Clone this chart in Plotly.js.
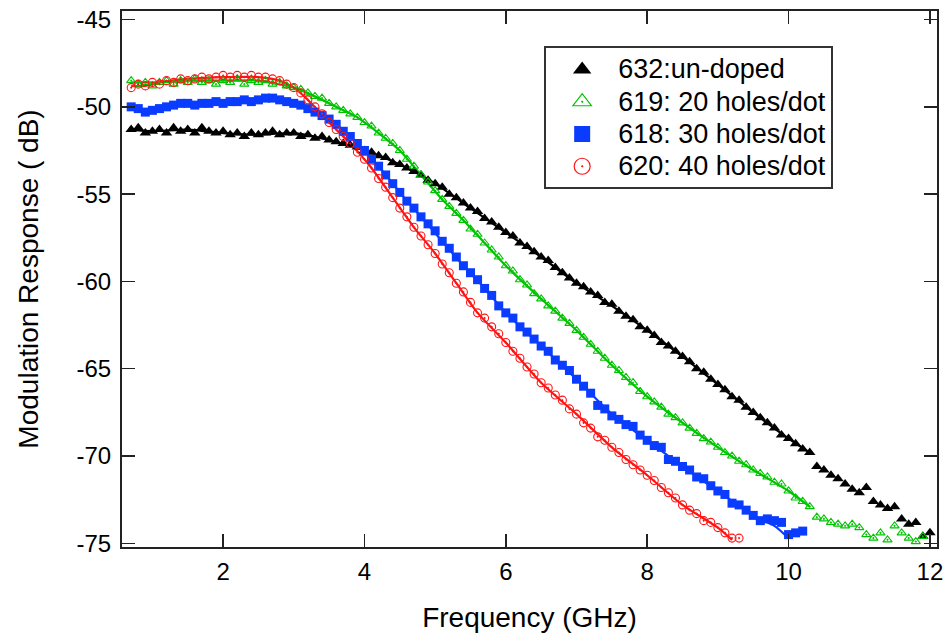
<!DOCTYPE html>
<html>
<head>
<meta charset="utf-8">
<script src="https://cdn.plot.ly/plotly-3.0.1.min.js"></script>
<style>
html,body{margin:0;padding:0;background:#fff;}
#chart{width:950px;height:644px;}
.legendtext{font-size:27px !important;}
</style>
</head>
<body>
<div id="chart"></div>
<script>
// ---- series names ----
var names = ["632:un-doped", "619: 20 holes/dot", "618: 30 holes/dot", "620: 40 holes/dot"];

// ---- measured points (markers) ----
var blackX = [0.7,0.8,0.9,1.0,1.1,1.2,1.3,1.4,1.5,1.6,1.7,1.8,1.9,2.0,2.1,2.2,2.3,2.4,2.5,2.6,2.7,2.8,2.9,3.0,3.1,3.2,3.3,3.4,3.5,3.6,3.7,3.8,3.9,4.0,4.1,4.2,4.3,4.4,4.5,4.6,4.7,4.8,4.9,5.0,5.1,5.2,5.3,5.4,5.5,5.6,5.7,5.8,5.9,6.0,6.1,6.2,6.3,6.4,6.5,6.6,6.7,6.8,6.9,7.0,7.1,7.2,7.3,7.4,7.5,7.6,7.7,7.8,7.9,8.0,8.1,8.2,8.3,8.4,8.5,8.6,8.7,8.8,8.9,9.0,9.1,9.2,9.3,9.4,9.5,9.6,9.7,9.8,9.9,10.0,10.1,10.2,10.3,10.4,10.5,10.6,10.7,10.8,10.9,11.0,11.1,11.2,11.3,11.4,11.5,11.6,11.7,11.8,11.9,12.0];
var blackY = [-51.3,-51.2,-51.5,-51.4,-51.3,-51.5,-51.2,-51.4,-51.3,-51.5,-51.2,-51.4,-51.5,-51.4,-51.6,-51.5,-51.7,-51.5,-51.6,-51.5,-51.4,-51.6,-51.5,-51.5,-51.7,-51.6,-51.8,-51.7,-51.9,-52.0,-52.1,-52.2,-52.3,-52.5,-52.6,-52.8,-52.9,-53.2,-53.3,-53.5,-53.7,-53.9,-54.2,-54.4,-54.6,-55.0,-55.2,-55.5,-55.8,-56.0,-56.4,-56.6,-56.9,-57.2,-57.4,-57.8,-58.0,-58.3,-58.6,-58.8,-59.2,-59.5,-59.8,-60.1,-60.3,-60.6,-60.8,-61.2,-61.3,-61.7,-62.0,-62.2,-62.6,-62.8,-63.1,-63.5,-63.7,-64.0,-64.3,-64.6,-65.0,-65.2,-65.6,-65.9,-66.2,-66.6,-66.8,-67.2,-67.5,-67.8,-68.1,-68.4,-68.8,-69.0,-69.3,-69.6,-69.8,-70.6,-70.8,-71.1,-71.3,-71.6,-71.9,-72.1,-71.8,-72.6,-72.8,-73.0,-72.9,-73.6,-73.9,-73.8,-74.6,-74.4];

var greenX = [0.7,0.8,0.9,1.0,1.1,1.2,1.3,1.4,1.5,1.6,1.7,1.8,1.9,2.0,2.1,2.2,2.3,2.4,2.5,2.6,2.7,2.8,2.9,3.0,3.1,3.2,3.3,3.4,3.5,3.6,3.7,3.8,3.9,4.0,4.1,4.2,4.3,4.4,4.5,4.6,4.7,4.8,4.9,5.0,5.1,5.2,5.3,5.4,5.5,5.6,5.7,5.8,5.9,6.0,6.1,6.2,6.3,6.4,6.5,6.6,6.7,6.8,6.9,7.0,7.1,7.2,7.3,7.4,7.5,7.6,7.7,7.8,7.9,8.0,8.1,8.2,8.3,8.4,8.5,8.6,8.7,8.8,8.9,9.0,9.1,9.2,9.3,9.4,9.5,9.6,9.7,9.8,9.9,10.0,10.1,10.2,10.3,10.4,10.5,10.6,10.7,10.8,10.9,11.0,11.1,11.2,11.3,11.4,11.5,11.6,11.7,11.8,11.9];
var greenY = [-48.5,-48.7,-48.6,-48.8,-48.6,-48.5,-48.7,-48.5,-48.6,-48.4,-48.6,-48.5,-48.7,-48.5,-48.6,-48.4,-48.7,-48.5,-48.6,-48.5,-48.7,-48.6,-48.8,-48.9,-49.0,-49.2,-49.4,-49.5,-49.8,-50.0,-50.2,-50.4,-50.6,-50.9,-51.1,-51.5,-51.8,-52.1,-52.5,-53.0,-53.4,-53.9,-54.3,-54.8,-55.3,-55.7,-56.1,-56.5,-57.0,-57.3,-57.8,-58.2,-58.6,-59.1,-59.4,-59.9,-60.2,-60.7,-61.0,-61.4,-61.7,-62.1,-62.4,-62.8,-63.2,-63.6,-64.0,-64.4,-64.8,-65.1,-65.5,-65.8,-66.3,-66.6,-66.9,-67.2,-67.6,-67.8,-68.1,-68.4,-68.7,-69.0,-69.2,-69.5,-69.8,-70.0,-70.3,-70.5,-70.8,-71.0,-71.2,-71.5,-71.6,-72.0,-72.4,-72.6,-72.9,-73.5,-73.6,-73.8,-73.9,-74.0,-73.9,-74.1,-74.5,-74.7,-74.4,-74.8,-74.0,-74.4,-74.7,-74.9,-74.6];

var blueX = [0.7,0.8,0.9,1.0,1.1,1.2,1.3,1.4,1.5,1.6,1.7,1.8,1.9,2.0,2.1,2.2,2.3,2.4,2.5,2.6,2.7,2.8,2.9,3.0,3.1,3.2,3.3,3.4,3.5,3.6,3.7,3.8,3.9,4.0,4.1,4.2,4.3,4.4,4.5,4.6,4.7,4.8,4.9,5.0,5.1,5.2,5.3,5.4,5.5,5.6,5.7,5.8,5.9,6.0,6.1,6.2,6.3,6.4,6.5,6.6,6.7,6.8,6.9,7.0,7.1,7.2,7.3,7.4,7.5,7.6,7.7,7.8,7.9,8.0,8.1,8.2,8.3,8.4,8.5,8.6,8.7,8.8,8.9,9.0,9.1,9.2,9.3,9.4,9.5,9.6,9.7,9.8,9.9,10.0,10.1,10.2];
var blueY = [-50.0,-50.1,-50.3,-50.2,-50.1,-50.0,-49.9,-49.8,-49.8,-49.9,-49.8,-49.8,-49.7,-49.8,-49.7,-49.7,-49.6,-49.7,-49.6,-49.5,-49.5,-49.6,-49.7,-49.8,-49.9,-50.1,-50.3,-50.5,-50.7,-51.0,-51.4,-51.7,-52.1,-52.5,-53.0,-53.4,-53.9,-54.4,-54.9,-55.4,-55.8,-56.3,-56.7,-57.1,-57.7,-58.1,-58.6,-59.1,-59.5,-59.9,-60.4,-60.8,-61.4,-61.8,-62.1,-62.6,-62.9,-63.3,-63.7,-64.0,-64.5,-64.8,-65.1,-65.6,-66.0,-66.4,-67.1,-67.3,-67.7,-67.9,-68.2,-68.3,-68.8,-69.1,-69.4,-69.5,-70.2,-70.3,-70.6,-70.8,-71.2,-71.3,-71.7,-72.0,-72.2,-72.7,-72.8,-73.1,-73.4,-73.7,-73.6,-73.7,-73.8,-74.5,-74.4,-74.3];

var redX = [0.7,0.8,0.9,1.0,1.1,1.2,1.3,1.4,1.5,1.6,1.7,1.8,1.9,2.0,2.1,2.2,2.3,2.4,2.5,2.6,2.7,2.8,2.9,3.0,3.1,3.2,3.3,3.4,3.5,3.6,3.7,3.8,3.9,4.0,4.1,4.2,4.3,4.4,4.5,4.6,4.7,4.8,4.9,5.0,5.1,5.2,5.3,5.4,5.5,5.6,5.7,5.8,5.9,6.0,6.1,6.2,6.3,6.4,6.5,6.6,6.7,6.8,6.9,7.0,7.1,7.2,7.3,7.4,7.5,7.6,7.7,7.8,7.9,8.0,8.1,8.2,8.3,8.4,8.5,8.6,8.7,8.8,8.9,9.0,9.1,9.2,9.3];
var redY = [-48.9,-48.7,-48.8,-48.6,-48.7,-48.5,-48.6,-48.4,-48.5,-48.4,-48.3,-48.4,-48.3,-48.2,-48.3,-48.2,-48.3,-48.2,-48.3,-48.3,-48.4,-48.5,-48.7,-48.9,-49.2,-49.6,-50.0,-50.4,-50.9,-51.3,-51.7,-52.1,-52.6,-53.0,-53.5,-54.1,-54.6,-55.2,-55.8,-56.3,-56.9,-57.4,-57.9,-58.4,-59.0,-59.5,-60.1,-60.6,-61.2,-61.8,-62.1,-62.6,-63.0,-63.5,-64.0,-64.4,-64.9,-65.3,-65.8,-66.1,-66.5,-66.8,-67.3,-67.6,-68.1,-68.4,-68.9,-69.1,-69.5,-69.8,-70.2,-70.5,-70.8,-71.1,-71.4,-71.8,-72.1,-72.4,-72.8,-73.1,-73.3,-73.7,-73.8,-74.1,-74.4,-74.7,-74.7];

// ---- fitted curves (solid lines) ----
var blackFitX = [0.7,1.0,1.5,2.0,2.5,3.0,3.5,4.0,4.5,5.0,5.5,6.0,6.5,7.0,7.5,8.0,8.5,9.0,9.5,10.0,10.3];
var blackFitY = [-51.3,-51.4,-51.3,-51.5,-51.6,-51.5,-51.9,-52.5,-53.3,-54.4,-55.8,-57.2,-58.6,-60.1,-61.4,-62.8,-64.3,-65.9,-67.5,-69.0,-69.8];
var greenFitX = [0.7,1.0,1.5,2.0,2.5,3.0,3.3,3.6,3.9,4.2,4.5,4.8,5.1,5.4,5.7,6.0,6.5,7.0,7.5,8.0,8.5,9.0,9.5,10.0,10.3];
var greenFitY = [-48.6,-48.6,-48.5,-48.5,-48.5,-48.9,-49.4,-50.0,-50.6,-51.5,-52.5,-53.9,-55.3,-56.5,-57.8,-59.1,-61.0,-62.8,-64.8,-66.6,-68.1,-69.5,-70.8,-72.0,-72.9];
var blueFitX = [0.7,0.9,1.2,1.5,2.0,2.5,2.75,3.0,3.3,3.6,3.9,4.2,4.5,4.8,5.1,5.4,5.7,6.0,6.5,7.0,7.5,8.0,8.5,9.0,9.5,9.8,10.0];
var blueFitY = [-50.0,-50.3,-50.0,-49.8,-49.8,-49.6,-49.5,-49.8,-50.3,-51.0,-52.1,-53.4,-54.9,-56.3,-57.7,-59.1,-60.4,-61.8,-63.7,-65.6,-67.6,-69.1,-70.6,-72.0,-73.4,-74.0,-74.7];
var redFitX = [0.7,0.9,1.1,1.5,2.0,2.5,2.8,3.0,3.2,3.5,3.8,4.1,4.4,4.7,5.0,5.3,5.6,6.0,6.5,7.0,7.5,8.0,8.5,9.0,9.2];
var redFitY = [-48.8,-48.8,-48.6,-48.4,-48.3,-48.3,-48.5,-48.9,-49.6,-50.9,-52.1,-53.5,-55.2,-56.9,-58.4,-60.1,-61.8,-63.5,-65.8,-67.6,-69.5,-71.1,-72.8,-74.1,-74.8];

// ---- axis ticks ----
var xTicks = [2, 4, 6, 8, 10, 12];
var yTicks = [-45, -50, -55, -60, -65, -70, -75];

var cBlack = "#000000", cGreen = "#00c400", cBlue = "#0a3cff", cRed = "#ff1414";

function fit(x, y, c) {
  return {x: x, y: y, mode: "lines", type: "scatter", showlegend: false, hoverinfo: "skip",
          line: {color: c, width: 2.2, shape: "spline", smoothing: 0.6}};
}
function pts(x, y, c, sym, size, name, lw) {
  return {x: x, y: y, mode: "markers", type: "scatter", showlegend: false, name: name,
          marker: {symbol: sym, size: size, color: c, line: {color: c, width: lw}}};
}
function leg(c, sym, name, lw) {
  return {x: [null], y: [null], mode: "markers", type: "scatter", name: name, showlegend: true,
          marker: {symbol: sym, size: 16, color: c, line: {color: c, width: lw}}};
}

var data = [
  fit(blackFitX, blackFitY, cBlack),
  fit(greenFitX, greenFitY, cGreen),
  fit(blueFitX, blueFitY, cBlue),
  fit(redFitX, redFitY, cRed),
  pts(blackX, blackY, cBlack, "triangle-up", 10, names[0], 0),
  pts(greenX, greenY, cGreen, "triangle-up-open-dot", 8, names[1], 1.1),
  pts(blueX, blueY, cBlue, "square", 9, names[2], 0),
  pts(redX, redY, cRed, "circle-open-dot", 8, names[3], 1.1),
  leg(cBlack, "triangle-up", names[0], 0),
  leg(cGreen, "triangle-up-open-dot", names[1], 1.2),
  leg(cBlue, "square", names[2], 0),
  leg(cRed, "circle-open-dot", names[3], 1.2)
];

var font = "Liberation Sans, Arial, sans-serif";
var layout = {
  width: 950, height: 644,
  margin: {l: 122, r: 13, t: 11, b: 97},
  paper_bgcolor: "#ffffff", plot_bgcolor: "#ffffff",
  showlegend: true,
  font: {family: font, color: "#000000", size: 24},
  xaxis: {
    range: [0.57, 12.1], tickvals: xTicks, ticktext: xTicks.map(String),
    ticks: "inside", ticklen: 13, tickwidth: 1.5, tickcolor: "#222",
    showline: true, linecolor: "#222", linewidth: 2, mirror: "ticks",
    showgrid: false, zeroline: false, ticklabelstandoff: 2,
    tickfont: {size: 24, family: font},
    title: {text: "Frequency (GHz)", font: {size: 28, family: font}, standoff: 24}
  },
  yaxis: {
    range: [-75.21, -44.51], tickvals: yTicks, ticktext: yTicks.map(String),
    ticks: "inside", ticklen: 13, tickwidth: 1.5, tickcolor: "#222",
    showline: true, linecolor: "#222", linewidth: 2, mirror: "ticks",
    showgrid: false, zeroline: false, ticklabelstandoff: 4,
    tickfont: {size: 24, family: font},
    title: {text: "Modulation Response ( dB)", font: {size: 28, family: font}, standoff: 30}
  },
  legend: {
    x: 0.518, y: 0.934, xanchor: "left", yanchor: "top",
    bgcolor: "#ffffff", bordercolor: "#333", borderwidth: 2,
    font: {size: 22.5, family: font}, itemwidth: 62, tracegroupgap: 0
  }
};

Plotly.newPlot("chart", data, layout, {displayModeBar: false, staticPlot: true});
</script>
</body>
</html>
